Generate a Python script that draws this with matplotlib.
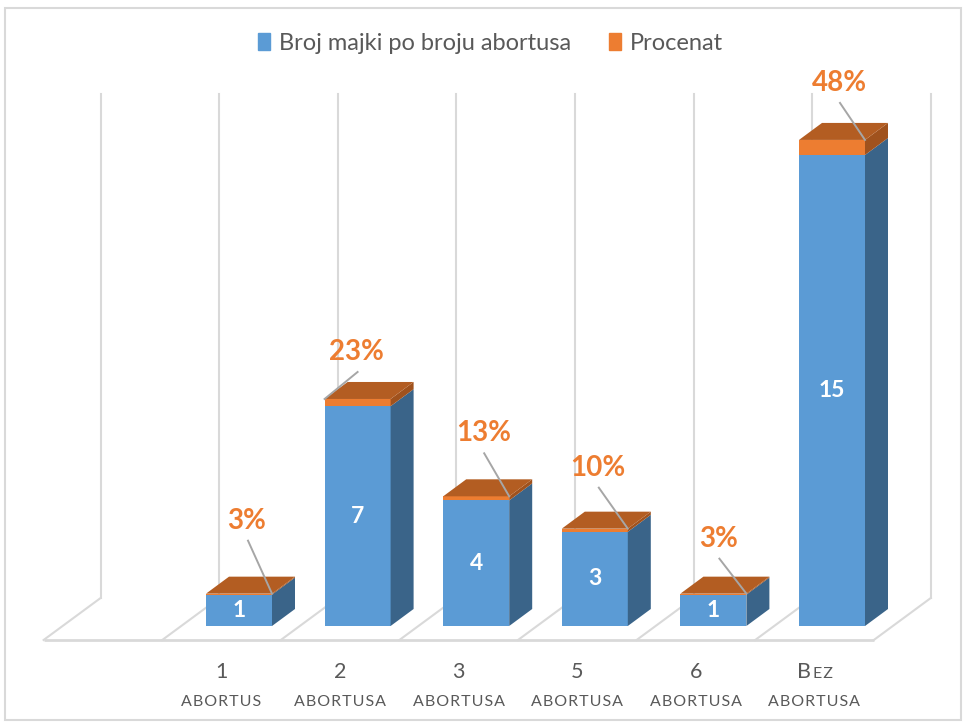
import matplotlib
matplotlib.use('Agg')
import matplotlib.pyplot as plt
from matplotlib.patches import Polygon, Rectangle, Patch

# ---------------- data ----------------
cat_numbers = ['1', '2', '3', '5', '6', 'Bez']
cat_words = ['ABORTUS', 'ABORTUSA', 'ABORTUSA', 'ABORTUSA', 'ABORTUSA', 'ABORTUSA']
counts = [1, 7, 4, 3, 1, 15]
percent = [0.03, 0.23, 0.13, 0.10, 0.03, 0.48]
series_names = ['Broj majki po broju abortusa', 'Procenat']

# ---------------- style ----------------
plt.rcParams['font.family'] = ['Lato', 'DejaVu Sans']
BLUE, BLUE_SIDE = '#5B9BD5', '#3A6489'
ORANGE, ORANGE_SIDE, ORANGE_TOP = '#ED7D31', '#A0521D', '#B35D22'
GRID = '#D9D9D9'
TXT = '#595959'
LEADER = '#A6A6A6'

W, H = 965, 725
PXX = 118.6   # px per category
PXY = 31.4    # px per value unit
X0 = 239      # px of first bar centre
Y0 = 626      # px (from top) of value 0

fig = plt.figure(figsize=(W / 100, H / 100), dpi=100)
ax = fig.add_axes([0, 0, 1, 1])
ax.set_xlim(-X0 / PXX, (W - X0) / PXX)
ax.set_ylim(-(H - Y0) / PXY, Y0 / PXY)
ax.axis('off')


def px(d):
    return d / PXX


def py(d):
    return d / PXY


n = len(counts)
xs = list(range(n))
bw = px(66)
DX, DY = px(23), py(17)          # bar depth offsets
FDX, FDY = px(57), py(42)        # floor depth offsets
front_shift = px(17.5)
floor_front_y = py(-14)
wall_top = 16.94

# ---------------- floor and back wall ----------------
edges = [i - 0.5 - front_shift for i in range(-1, n + 1)]
ax.plot([edges[0], edges[-1]], [floor_front_y] * 2, color=GRID, lw=2, zorder=1,
        solid_capstyle='butt')
for e in edges:
    ax.plot([e, e + FDX], [floor_front_y, floor_front_y + FDY], color=GRID, lw=1.5, zorder=1)
    ax.plot([e + FDX, e + FDX], [floor_front_y + FDY, wall_top], color=GRID, lw=1.5, zorder=1)

# ---------------- bars ----------------
ax.bar(xs, counts, width=bw, color=BLUE, zorder=3)
ax.bar(xs, percent, width=bw, bottom=counts, color=ORANGE, zorder=3)
for x, c, p in zip(xs, counts, percent):
    r = x + bw / 2
    l = x - bw / 2
    top = c + p
    ax.add_patch(Polygon([(r, 0), (r + DX, DY), (r + DX, c + DY), (r, c)],
                         closed=True, color=BLUE_SIDE, zorder=3, lw=0))
    ax.add_patch(Polygon([(r, c), (r + DX, c + DY), (r + DX, top + DY), (r, top)],
                         closed=True, color=ORANGE_SIDE, zorder=3, lw=0))
    ax.add_patch(Polygon([(l, top), (r, top), (r + DX, top + DY), (l + DX, top + DY)],
                         closed=True, color=ORANGE_TOP, zorder=3, lw=0))
    ax.text(x, c / 2, str(c), ha='center', va='center', color='white',
            fontsize=16.5, fontweight='bold', zorder=5)

# percentage labels with leader lines
label_offsets = [(-25, 73), (32, 47), (-26, 63), (-30, 61), (-28, 55), (-26, 57)]
leader_corner = ['r', 'l', 'r', 'r', 'r', 'r']
for x, c, p, (ox, oy), side in zip(xs, counts, percent, label_offsets, leader_corner):
    cx = x + bw / 2 if side == 'r' else x - bw / 2
    top = c + p
    lx, ly = cx + px(ox), top + py(oy)
    ax.text(lx, ly, f'{p:.0%}', ha='center', va='center', color=ORANGE,
            fontsize=20, fontweight='bold', zorder=6)
    ax.plot([lx + px(1), cx], [ly - py(20), top], color=LEADER, lw=1.4, zorder=6)

# ---------------- category labels ----------------
num_base = py(-52)
word_base = py(-80)
big, small = 15.5, 11.5
fig.canvas.draw()
renderer = fig.canvas.get_renderer()
for x, num, word in zip(xs, cat_numbers, cat_words):
    cx = x - front_shift
    ax.text(cx, word_base, '\u200a'.join(word), ha='center', va='baseline',
            fontsize=small, color=TXT)
    if num.isdigit():
        ax.text(cx, num_base, num, ha='center', va='baseline', fontsize=big, color=TXT)
    else:
        first, rest = num[0], '\u200a'.join(num[1:].upper())
        t1 = ax.text(cx, num_base, first, ha='left', va='baseline', fontsize=big, color=TXT)
        t2 = ax.text(cx, num_base, rest, ha='left', va='baseline', fontsize=small, color=TXT)
        w1 = t1.get_window_extent(renderer).width
        w2 = t2.get_window_extent(renderer).width
        gap = 2
        left = cx - px((w1 + gap + w2) / 2)
        t1.set_x(left)
        t2.set_x(left + px(w1 + gap))

# ---------------- legend ----------------
handles = [Patch(color=BLUE), Patch(color=ORANGE)]
fig.legend(handles, series_names, loc='center', bbox_to_anchor=(0.5 + 8 / W, 1 - 43 / H),
           ncol=2, frameon=False, fontsize=17, handlelength=0.5, handleheight=0.75,
           handletextpad=0.4, columnspacing=1.6, labelcolor=TXT)

# ---------------- chart border ----------------
fig.patches.append(Rectangle((5 / W, 1 - 720 / H), 956 / W, 712 / H,
                             transform=fig.transFigure, fill=False,
                             edgecolor=GRID, lw=1.5))

fig.savefig('out.png', dpi=100, facecolor='white')
